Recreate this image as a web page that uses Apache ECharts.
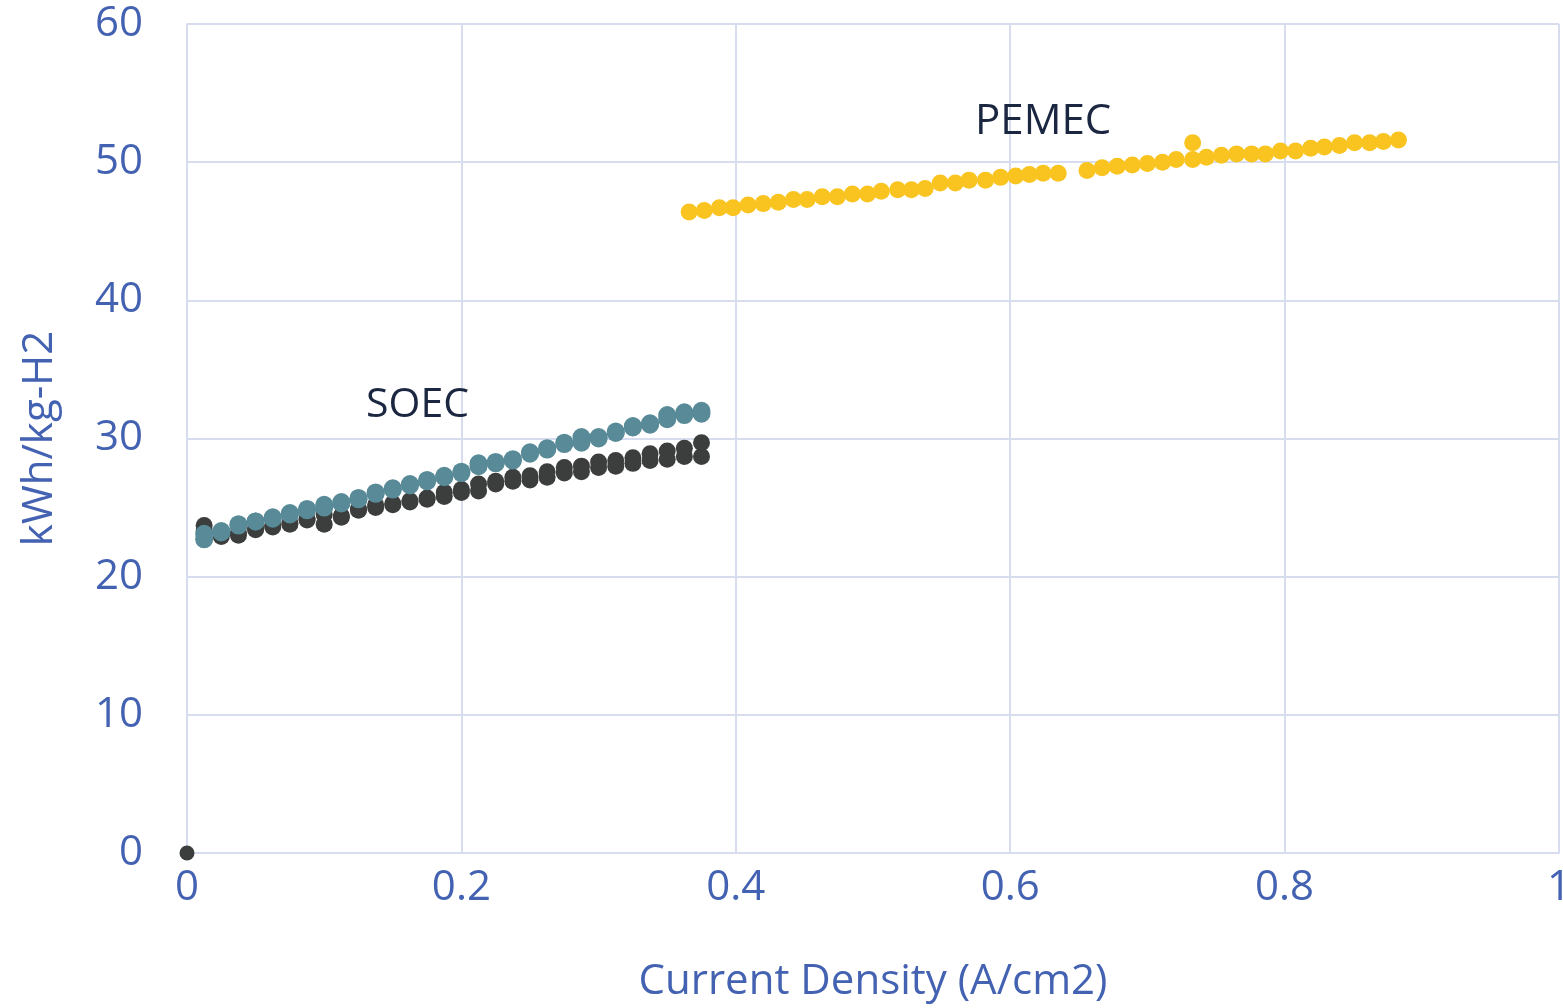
<!DOCTYPE html>
<html><head><meta charset="utf-8">
<script src="https://cdn.jsdelivr.net/npm/echarts@6/dist/echarts.min.js"></script>
<style>html,body{margin:0;padding:0;background:#fff}#c{width:1563px;height:1008px}</style>
</head><body><div id="c"></div>
<script>
// SOEC current density steps
const soecX = [0.0125,0.025,0.0375,0.05,0.0625,0.075,0.0875,0.1,0.1125,0.125,0.1375,0.15,0.1625,0.175,0.1875,0.2,0.2125,0.225,0.2375,0.25,0.2625,0.275,0.2875,0.3,0.3125,0.325,0.3375,0.35,0.3625,0.375];
const soecDarkLow  = [23.3,22.9,23.0,23.4,23.6,23.8,24.1,23.8,24.3,24.8,25.0,25.2,25.4,25.6,25.8,26.1,26.2,26.7,26.9,27.0,27.2,27.5,27.6,27.9,28.0,28.2,28.4,28.5,28.7,28.7];
const soecDarkHigh = [23.7,23.2,23.2,23.5,23.7,23.9,24.2,24.5,24.4,24.9,25.2,25.3,25.5,25.7,26.1,26.3,26.7,26.9,27.2,27.3,27.6,27.9,28.0,28.3,28.4,28.6,28.9,29.1,29.3,29.7];
const soecTeal     = [22.7,23.2,23.7,24.0,24.2,24.5,24.8,25.0,25.3,25.6,26.0,26.3,26.6,26.9,27.2,27.5,28.0,28.2,28.4,28.9,29.2,29.6,29.7,30.0,30.4,30.8,31.0,31.4,31.7,31.8];
const soecTealHigh = [23.1,23.3,23.8,24.0,24.3,24.6,24.9,25.2,25.4,25.7,26.1,26.4,26.7,27.0,27.3,27.6,28.2,28.3,28.5,29.0,29.3,29.7,30.1,30.1,30.5,30.9,31.1,31.7,31.9,32.0];
const originPoint = [[0, 0]];

const pemecX = [0.366,0.377,0.388,0.398,0.409,0.420,0.431,0.442,0.452,0.463,0.474,0.485,0.496,0.506,0.518,0.528,0.538,0.549,0.560,0.570,0.582,0.593,0.604,0.614,0.624,0.635,0.656,0.667,0.678,0.689,0.700,0.711,0.721,0.733,0.733,0.743,0.754,0.765,0.776,0.786,0.797,0.808,0.819,0.829,0.840,0.851,0.862,0.872,0.883];
const pemecY = [46.4,46.5,46.7,46.7,46.9,47.0,47.1,47.3,47.3,47.5,47.5,47.7,47.7,47.9,48.0,48.0,48.1,48.5,48.5,48.7,48.7,48.9,49.0,49.1,49.2,49.2,49.4,49.6,49.7,49.8,49.9,50.0,50.2,50.2,51.4,50.35,50.5,50.6,50.6,50.6,50.8,50.8,51.0,51.1,51.2,51.4,51.4,51.5,51.6];

const xName = 'Current Density (A/cm2)';
const yName = 'kWh/kg-H2';
const labelSOEC = {text: 'SOEC', x: 0.168, y: 32.4};
const labelPEMEC = {text: 'PEMEC', x: 0.624, y: 52.9};

const zip = (xs, ys) => xs.map((x, i) => [x, ys[i]]);
const FONT = '"Open Sans", sans-serif';
const BLUE = '#4462B2';
const GRID = '#D7DDEF';

const chart = echarts.init(document.getElementById('c'), null, {renderer: 'canvas'});
chart.setOption({
  animation: false,
  grid: {left: 187, right: 4, top: 24, bottom: 155, containLabel: false, outerBoundsMode: 'none'},
  xAxis: {
    type: 'value', min: 0, max: 1, interval: 0.2,
    name: xName, nameLocation: 'middle', nameGap: 108,
    nameTextStyle: {color: BLUE, fontSize: 42, fontFamily: FONT},
    axisLine: {show: true, lineStyle: {color: GRID, width: 2}},
    axisTick: {show: false},
    axisLabel: {color: BLUE, fontSize: 42, fontFamily: FONT, margin: 14},
    splitLine: {show: true, lineStyle: {color: GRID, width: 2}}
  },
  yAxis: {
    type: 'value', min: 0, max: 60, interval: 10,
    name: yName, nameLocation: 'middle', nameGap: 126, nameRotate: 90,
    nameTextStyle: {color: BLUE, fontSize: 42, fontFamily: FONT},
    axisLine: {show: true, lineStyle: {color: GRID, width: 2}},
    axisTick: {show: false},
    axisLabel: {color: BLUE, fontSize: 42, fontFamily: FONT, margin: 44},
    splitLine: {show: true, lineStyle: {color: GRID, width: 2}}
  },
  series: [
    {type: 'scatter', symbolSize: 17, itemStyle: {color: '#3C3E3D', opacity: 1}, data: zip(soecX, soecDarkLow), z: 2},
    {type: 'scatter', symbolSize: 17, itemStyle: {color: '#3C3E3D', opacity: 1}, data: zip(soecX, soecDarkHigh), z: 2},
    {type: 'scatter', symbolSize: 15, itemStyle: {color: '#3C3E3D', opacity: 1}, data: originPoint, z: 2},
    {type: 'scatter', symbolSize: 18, itemStyle: {color: '#588A98', opacity: 1}, data: zip(soecX, soecTealHigh), z: 3},
    {type: 'scatter', symbolSize: 18, itemStyle: {color: '#588A98', opacity: 1}, data: zip(soecX, soecTeal), z: 3,
      markPoint: {symbol: 'circle', symbolSize: 0, silent: true,
        label: {show: true, position: 'inside', color: '#1B2640', fontSize: 41, fontFamily: FONT, formatter: p => p.name},
        data: [{name: labelSOEC.text, coord: [labelSOEC.x, labelSOEC.y]}]}},
    {type: 'scatter', symbolSize: 17, itemStyle: {color: '#F9C420', opacity: 1}, data: zip(pemecX, pemecY), z: 4,
      markPoint: {symbol: 'circle', symbolSize: 0, silent: true,
        label: {show: true, position: 'inside', color: '#1B2640', fontSize: 42, fontFamily: FONT, formatter: p => p.name},
        data: [{name: labelPEMEC.text, coord: [labelPEMEC.x, labelPEMEC.y]}]}}
  ]
});
</script></body></html>
